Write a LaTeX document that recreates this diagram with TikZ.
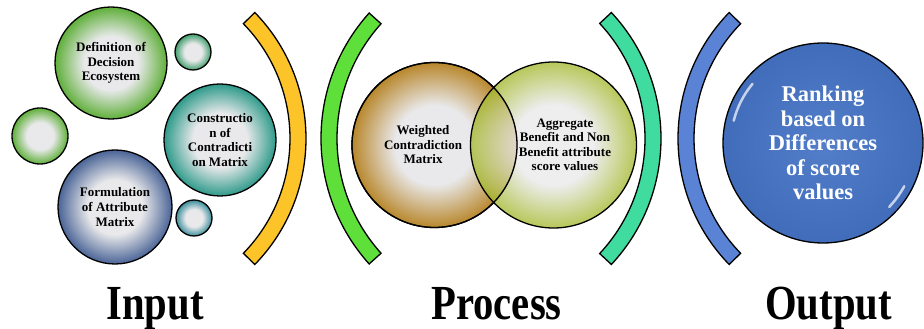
\documentclass[tikz,border=0pt]{standalone}
\usepackage{fontspec}
\setmainfont{Liberation Serif}
\usepackage{xcolor}
\definecolor{cCore}{HTML}{E9E9EB}
\definecolor{cLeaf}{HTML}{5FAF3A}
\definecolor{cMint}{HTML}{3F9E6C}
\definecolor{cTeal}{HTML}{2E9A8A}
\definecolor{cSlate}{HTML}{4A6496}
\definecolor{cSea}{HTML}{3A8E9C}
\definecolor{cOchre}{HTML}{B8872C}
\definecolor{cOlive}{HTML}{A4B82C}
\definecolor{cBlue}{HTML}{4472C4}
\definecolor{cYellow}{HTML}{FDC42A}
\definecolor{cLime}{HTML}{5EDF3A}
\definecolor{cAqua}{HTML}{3FDB9F}
\definecolor{cSky}{HTML}{5A83D6}
\usepackage{tikz}
\usetikzlibrary{positioning}
\colorlet{rimcol}{cLeaf}
\pgfdeclareradialshading[rimcol]{ball}{\pgfpoint{0bp}{0bp}}{%
  color(0bp)=(cCore); color(12bp)=(cCore); color(25bp)=(rimcol); color(50bp)=(rimcol)}
\tikzset{
  rim/.code={\colorlet{rimcol}{#1}},
  ball/.style={circle,draw=black,line width=1.3pt,inner sep=0pt,shading=ball,
    align=center,font=\bfseries\fontsize{13}{14.8}\selectfont},
  ball-text/.style={align=center,inner sep=0pt,font=\bfseries\fontsize{13}{14.5}\selectfont},
  ball-out/.style={circle,draw=black,line width=1.3pt,inner sep=0pt,
    inner color=cBlue!92!white,outer color=cBlue!95!black,
    align=center,text=white,font=\bfseries\fontsize{22.5}{24.5}\selectfont},
  band/.style={draw=black,line width=1.3pt},
  glint/.style={draw=white,line width=2.5pt,opacity=0.7,line cap=round},
  stage/.style={font=\bfseries\fontsize{49}{50}\selectfont,xscale=0.83,anchor=base,inner sep=0pt},
}
\begin{document}
\begin{tikzpicture}[x=1pt,y=1pt]
  \useasboundingbox (0,0) rectangle (924,329);
  % input
  \node[ball,rim=cLeaf,minimum size=112pt] (def) at (111,266) {Definition of\\Decision\\Ecosystem};
  \node[ball,rim=cMint,minimum size=36pt] (dot1) at (193,277) {};
  \node[ball,rim=cLeaf,minimum size=56pt] (dot2) at (40,193) {};
  \node[ball,rim=cTeal,minimum size=112pt] (con) at (220,189) {Constructio\\n of\\Contradicti\\on Matrix};
  \node[ball,rim=cSlate,minimum size=114pt] (form) at (115,122) {Formulation\\of Attribute\\Matrix};
  \node[ball,rim=cSea,minimum size=36pt] (dot3) at (194,111) {};
  \draw[band,fill=cYellow] (125.3,190.5) ++(-44.2:164.7) arc[start angle=-44.2,end angle=44.2,radius=164.7]
    -- ++(44.2:16) arc[start angle=44.2,end angle=-44.2,radius=180.7] -- cycle;
  % process
  \draw[band,fill=cLime] (508.5,190.5) ++(138:171.5) arc[start angle=138,end angle=222,radius=171.5]
    -- ++(222:16) arc[start angle=222,end angle=138,radius=187.5] -- cycle;
  \node[ball,rim=cOchre,minimum size=165pt] (wcm) at (434.5,184) {};
  \node[ball,rim=cOlive,minimum size=166pt,fill opacity=0.78] (agg) at (553.5,184) {};
  \draw[line width=1.3pt] (wcm) circle[radius=82.5];
  \node[ball-text] (wcm-txt) at (423,184) {Weighted\\Contradiction\\Matrix};
  \node[ball-text] (agg-txt) at (565,184) {Aggregate\\Benefit and Non\\Benefit attribute\\score values};
  \draw[band,fill=cAqua] (476.3,190.5) ++(-43:168.7) arc[start angle=-43,end angle=43,radius=168.7]
    -- ++(43:16) arc[start angle=43,end angle=-43,radius=184.7] -- cycle;
  % output
  \draw[band,fill=cSky] (858.7,190.5) ++(135.8:164.7) arc[start angle=135.8,end angle=224.2,radius=164.7]
    -- ++(224.2:16) arc[start angle=224.2,end angle=135.8,radius=180.7] -- cycle;
  \node[ball-out,minimum size=200pt] (out) at (823,186) {Ranking\\based on\\Differences\\of score\\values};
  \draw[glint] (out.center) ++(140:92) arc[start angle=140,end angle=166,radius=92];
  \draw[glint] (out.center) ++(-28:92) arc[start angle=-28,end angle=-44,radius=92];
  % stages
  \node[stage] (lbl-in) at (155,9) {Input};
  \node[stage] (lbl-proc) at (496.5,9) {Process};
  \node[stage] (lbl-out) at (828.5,9) {Output};
\end{tikzpicture}
\end{document}
